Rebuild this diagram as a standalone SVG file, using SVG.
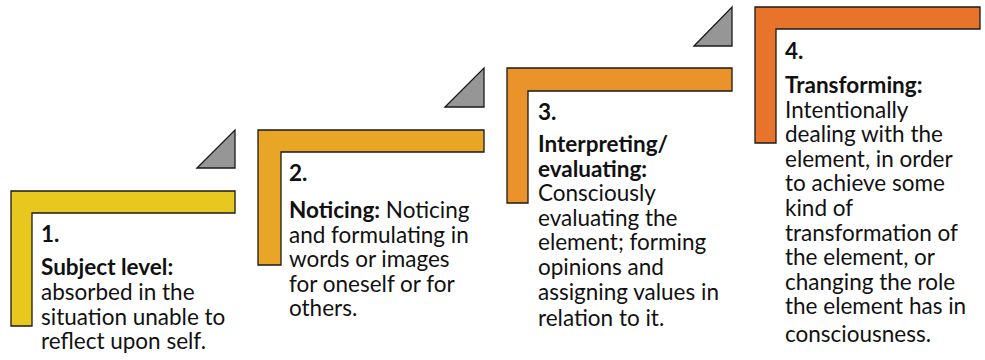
<svg xmlns="http://www.w3.org/2000/svg" width="985" height="360" viewBox="0 0 985 360">
<style>
.bk{stroke:#1a1a1a;stroke-width:1.3;stroke-linejoin:miter}
.tri{fill:#969696;stroke:#1a1a1a;stroke-width:1.3}
text{font-family:Lato,"Open Sans","Liberation Sans",sans-serif;font-size:22.5px;fill:#111}
.b{font-weight:bold}
</style>
<rect width="985" height="360" fill="#fff"/>
<g id="connectors">
<path class="tri" d="M197,168 L235,130 L235,168 Z"/>
<path class="tri" d="M445,107 L484,68 L484,107 Z"/>
<path class="tri" d="M694,46 L732,7 L732,46 Z"/>
</g>
<g id="step1">
<path class="bk" fill="#E8C71E" d="M11,191 H235 V213 H32 V326 H11 Z"/>
<text x="41" y="242" class="b">1.</text>
<text x="41" y="275" class="b">Subject level:</text>
<text x="41" y="300">absorbed in the</text>
<text x="41" y="324.5">situation unable to</text>
<text x="41" y="349">reflect upon self.</text>
</g>
<g id="step2">
<path class="bk" fill="#E9A626" d="M258,130 H484 V152 H281 V265 H258 Z"/>
<text x="289" y="181" class="b">2.</text>
<text x="289" y="218"><tspan class="b">Noticing:</tspan> Noticing</text>
<text x="289" y="242.6">and formulating in</text>
<text x="289" y="267.2">words or images</text>
<text x="289" y="291.8">for oneself or for</text>
<text x="289" y="316.4">others.</text>
</g>
<g id="step3">
<path class="bk" fill="#E9932A" d="M507,68 H732 V91 H528 V203 H507 Z"/>
<text x="538" y="120" class="b">3.</text>
<text x="538" y="152" class="b">Interpreting/</text>
<text x="538" y="176.6" class="b">evaluating:</text>
<text x="538" y="201.2">Consciously</text>
<text x="538" y="225.8">evaluating the</text>
<text x="538" y="250.4">element; forming</text>
<text x="538" y="275">opinions and</text>
<text x="538" y="299.6">assigning values in</text>
<text x="538" y="326">relation to it.</text>
</g>
<g id="step4">
<path class="bk" fill="#E8732A" d="M755,7 H980 V29 H776 V143 H755 Z"/>
<text x="785" y="59" class="b">4.</text>
<text x="785" y="93" class="b">Transforming:</text>
<text x="785" y="117.6">Intentionally</text>
<text x="785" y="142.2">dealing with the</text>
<text x="785" y="166.8">element, in order</text>
<text x="785" y="191.4">to achieve some</text>
<text x="785" y="216">kind of</text>
<text x="785" y="240.6">transformation of</text>
<text x="785" y="265.2">the element, or</text>
<text x="785" y="289.8">changing the role</text>
<text x="785" y="314.4">the element has in</text>
<text x="785" y="342">consciousness.</text>
</g>
</svg>
